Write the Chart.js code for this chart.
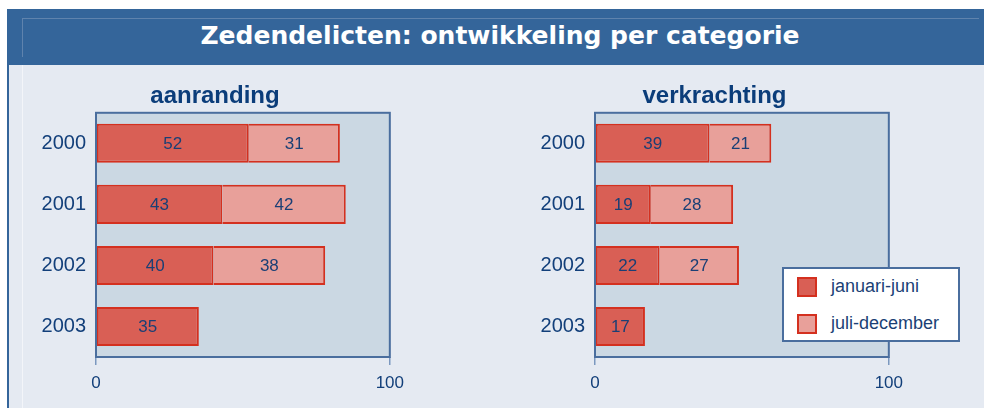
<!DOCTYPE html>
<html>
<head>
<meta charset="utf-8">
<script src="https://cdn.jsdelivr.net/npm/chart.js@4.4.0/dist/chart.umd.min.js"></script>
<style>
  html, body { margin: 0; padding: 0; background: #ffffff; }
  #stage { position: relative; width: 984px; height: 408px; overflow: hidden; background: #ffffff; }
  #titlebar { position: absolute; left: 7px; top: 9px; width: 977px; height: 56px; background: #34659a; }
  #titlebar .inner { position: absolute; left: 15px; top: 9px; width: 956px; height: 38px; border-left: 1px solid #5f83ad; border-top: 1px solid #5f83ad; }
  #titlebar .txt { position: absolute; left: 0; width: 986px; top: 0; height: 56px; text-align: center; color: #ffffff; font: bold 25px "DejaVu Sans", sans-serif; line-height: 54px; }
  #panel { position: absolute; left: 7px; top: 65px; width: 975px; height: 343px; background: #e5eaf2; border-left: 2px solid #34659a; }
  #panel .vline { position: absolute; left: 13px; top: 0; width: 1px; height: 343px; background: #f3f5f9; }
  canvas { position: absolute; }
  #c1 { left: 20px; top: 66px; }
  #c2 { left: 519px; top: 66px; }
  #legend { position: absolute; left: 782px; top: 267px; width: 174px; height: 71px; background: #ffffff; border: 2px solid #4a6e9e; font: 18px "Liberation Sans", Arial, sans-serif; color: #1a3f75; }
  #legend .item { position: absolute; left: 13px; height: 20px; }
  #legend .sw { position: absolute; left: 0; top: 0; width: 16px; height: 16px; border: 2px solid #d4301f; }
  #legend .lb { position: absolute; left: 34px; top: -2px; white-space: nowrap; line-height: 22px; }
</style>
</head>
<body>
<div id="stage">
  <div id="titlebar"><div class="inner"></div><div class="txt">Zedendelicten: ontwikkeling per categorie</div></div>
  <div id="panel"><div class="vline"></div></div>
  <canvas id="c1" width="392" height="342"></canvas>
  <canvas id="c2" width="392" height="342"></canvas>
  <div id="legend"></div>
</div>
<script>
// ---- data ----
const years = ['2000', '2001', '2002', '2003'];
const seriesNames = ['januari-juni', 'juli-december'];
const aanrandingJanJun = [52, 43, 40, 35];
const aanrandingJulDec = [31, 42, 38, null];
const verkrachtingJanJun = [39, 19, 22, 17];
const verkrachtingJulDec = [21, 28, 27, null];
const xTicks = [0, 100];
const panelTitles = ['aanranding', 'verkrachting'];

// ---- styles ----
const darkFill = '#d95f55';
const lightFill = '#e8a09a';
const barBorder = '#d4301f';
const navy = '#123f7a';
const frameColor = '#4a6e9e';
const plotBg = '#cbd8e3';

const frame = {
  id: 'frame',
  beforeDatasetsDraw(chart) {
    const a = chart.chartArea, ctx = chart.ctx;
    ctx.save();
    ctx.fillStyle = plotBg;
    ctx.fillRect(a.left, a.top, a.right - a.left, a.bottom - a.top);
    ctx.restore();
  },
  afterDraw(chart) {
    const a = chart.chartArea, ctx = chart.ctx;
    ctx.save();
    ctx.strokeStyle = frameColor;
    ctx.lineWidth = 2;
    ctx.strokeRect(a.left, a.top, a.right - a.left, a.bottom - a.top);
    ctx.restore();
  }
};

const valueLabels = {
  id: 'valueLabels',
  afterDatasetsDraw(chart) {
    const ctx = chart.ctx;
    ctx.save();
    ctx.font = '17px "Liberation Sans", Arial, sans-serif';
    ctx.fillStyle = '#1a3f75';
    ctx.textAlign = 'center';
    ctx.textBaseline = 'middle';
    chart.data.datasets.forEach((ds, di) => {
      const meta = chart.getDatasetMeta(di);
      meta.data.forEach((el, i) => {
        const v = ds.data[i];
        if (v === null || v === undefined) return;
        const p = el.getCenterPoint();
        ctx.fillText(String(v), p.x, p.y + 1);
      });
    });
    ctx.restore();
  }
};

function makeChart(id, title, d1, d2, rightPad) {
  return new Chart(document.getElementById(id), {
    type: 'bar',
    data: {
      labels: years,
      datasets: [
        { label: seriesNames[0], data: d1, backgroundColor: darkFill, borderColor: barBorder,
          borderWidth: 2, borderSkipped: false },
        { label: seriesNames[1], data: d2, backgroundColor: lightFill, borderColor: barBorder,
          borderWidth: { top: 2, bottom: 2, left: 0, right: 2 }, borderSkipped: false }
      ]
    },
    options: {
      indexAxis: 'y',
      responsive: false,
      animation: false,
      barPercentage: 0.64,
      categoryPercentage: 1.0,
      layout: { padding: { left: 0, right: rightPad, top: 0, bottom: 0 } },
      plugins: {
        legend: { display: false },
        tooltip: { enabled: false },
        title: {
          display: true, text: title, color: '#0b3d7a',
          font: { family: '"Liberation Sans", Arial, sans-serif', size: 24, weight: 'bold' },
          padding: { top: 16, bottom: 2 }
        }
      },
      scales: {
        x: {
          stacked: true, min: 0, max: 100,
          afterBuildTicks(s) { s.ticks = xTicks.map(v => ({ value: v })); },
          afterFit(s) { s.height = 51; },
          border: { display: false },
          grid: { drawOnChartArea: false, drawTicks: true, tickLength: 8, color: '#7b98bf', lineWidth: 1.5 },
          ticks: { color: navy, padding: 8, font: { family: '"Liberation Sans", Arial, sans-serif', size: 17 } }
        },
        y: {
          stacked: true,
          afterFit(s) { s.width = 76; },
          border: { display: false },
          grid: { display: false },
          ticks: { color: navy, padding: 2, font: { family: '"Liberation Sans", Arial, sans-serif', size: 20 } }
        }
      }
    },
    plugins: [frame, valueLabels]
  });
}

makeChart('c1', panelTitles[0], aanrandingJanJun, aanrandingJulDec, 2);
makeChart('c2', panelTitles[1], verkrachtingJanJun, verkrachtingJulDec, 1);

// legend from series names
const lg = document.getElementById('legend');
[darkFill, lightFill].forEach((col, i) => {
  const it = document.createElement('div');
  it.className = 'item';
  it.style.top = (8 + i * 37) + 'px';
  const sw = document.createElement('div');
  sw.className = 'sw';
  sw.style.background = col;
  const lb = document.createElement('div');
  lb.className = 'lb';
  lb.textContent = seriesNames[i];
  it.appendChild(sw); it.appendChild(lb);
  lg.appendChild(it);
});
</script>
</body>
</html>
